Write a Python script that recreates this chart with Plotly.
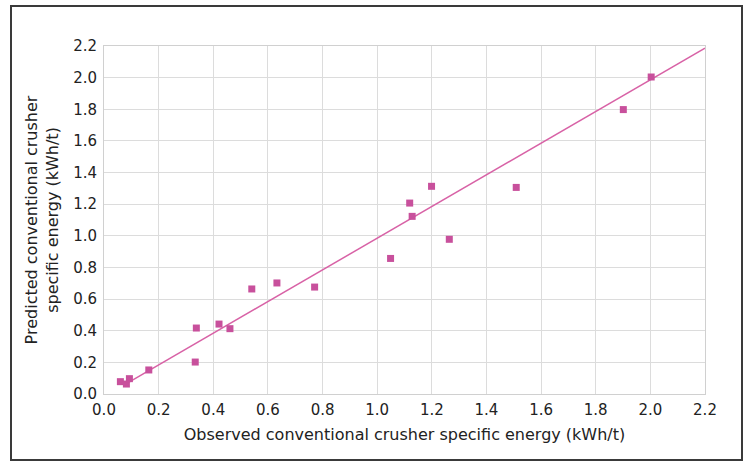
import plotly.graph_objects as go

observed = [0.060, 0.082, 0.093, 0.164, 0.334, 0.338, 0.421, 0.461, 0.541, 0.633, 0.771,
            1.049, 1.119, 1.128, 1.199, 1.264, 1.509, 1.901, 2.003]
predicted = [0.078, 0.063, 0.097, 0.152, 0.202, 0.417, 0.442, 0.413, 0.664, 0.702, 0.676,
             0.857, 1.207, 1.123, 1.313, 0.978, 1.306, 1.798, 2.004]

trend_x = [0.09, 2.2]
trend_y = [0.074, 2.186]

tick_vals = [0.0, 0.2, 0.4, 0.6, 0.8, 1.0, 1.2, 1.4, 1.6, 1.8, 2.0, 2.2]
tick_text = ["0.0", "0.2", "0.4", "0.6", "0.8", "1.0", "1.2", "1.4", "1.6", "1.8", "2.0", "2.2"]

x_title = "Observed conventional crusher specific energy (kWh/t)"
y_title = "Predicted conventional crusher<br>specific energy (kWh/t)"

fig = go.Figure()
fig.add_trace(go.Scatter(x=trend_x, y=trend_y, mode="lines",
                         line=dict(color="#D862A6", width=1.5), showlegend=False,
                         hoverinfo="skip"))
fig.add_trace(go.Scatter(x=observed, y=predicted, mode="markers",
                         marker=dict(symbol="square", size=7, color="#C8509C"),
                         showlegend=False))

font_family = "DejaVu Sans, Liberation Sans, Arial, sans-serif"
axis_common = dict(
    range=[0, 2.2], tickvals=tick_vals, ticktext=tick_text,
    showgrid=True, gridcolor="#dcdcdc", gridwidth=1,
    showline=True, linecolor="#d0d0d0", linewidth=1, mirror=True,
    zeroline=False, ticks="", tickfont=dict(family=font_family, size=15, color="#222222"),
    fixedrange=True,
)

fig.update_layout(
    width=744, height=467,
    margin=dict(l=104, r=39, t=46, b=73),
    paper_bgcolor="white", plot_bgcolor="white",
    font=dict(family=font_family, color="#222222"),
    xaxis=dict(**axis_common, ticklabelstandoff=2,
               title=dict(text=x_title, font=dict(size=16, family=font_family, color="#222222"), standoff=10)),
    yaxis=dict(**axis_common, ticklabelstandoff=3,
               title=dict(text=y_title, font=dict(size=16, family=font_family, color="#222222"), standoff=10)),
    shapes=[dict(type="rect", xref="paper", yref="paper",
                 x0=(11 - 104) / 601, x1=(742 - 104) / 601,
                 y0=(394 - 460) / 348, y1=(394 - 6) / 348,
                 line=dict(color="#3a3a3a", width=2), fillcolor="rgba(0,0,0,0)", layer="below")],
)
fig.update_xaxes(automargin=False)
fig.update_yaxes(automargin=False)

fig.write_html("out.html")
